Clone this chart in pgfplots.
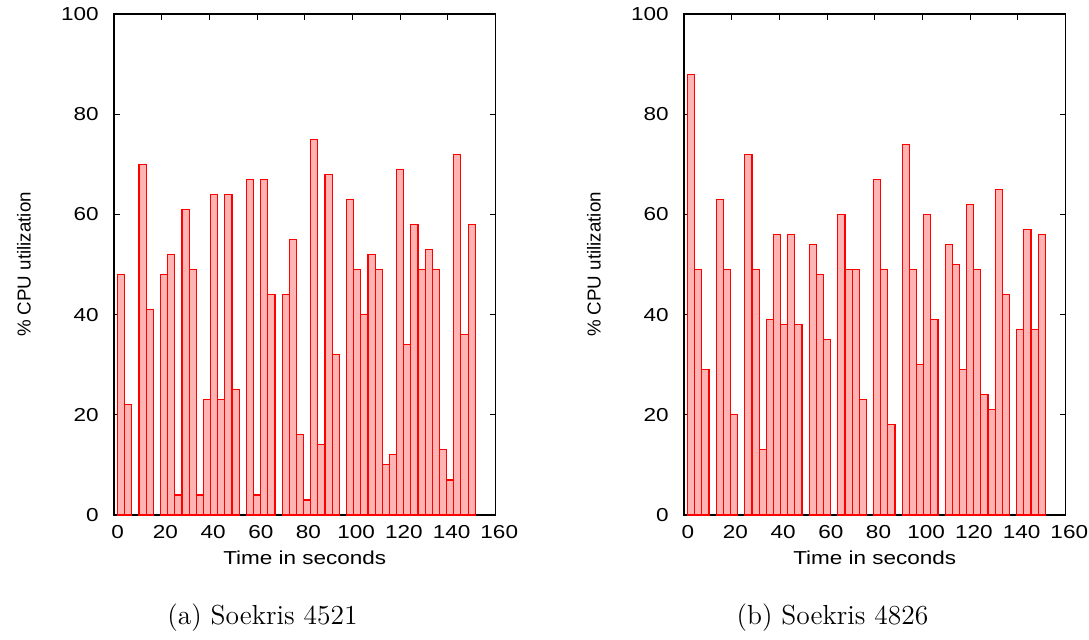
\documentclass[border=0pt]{standalone}
\usepackage{fontspec}
\usepackage{pgfplots}
\usepackage{pgfplotstable}
\pgfplotsset{compat=1.18}

% gnuplot text was stretched sideways with the figure
\newfontfamily\gp[FakeStretch=1.2]{Liberation Sans}
\newfontfamily\gpv{Liberation Sans}
\definecolor{barfill}{RGB}{255,180,180}

% CPU load, sampled every 3 s (zero samples left out)
\pgfplotstableread{
t cpu
3 48
6 22
12 70
15 41
21 48
24 52
27 4
30 61
33 49
36 4
39 23
42 64
45 23
48 64
51 25
57 67
60 4
63 67
66 44
72 44
75 55
78 16
81 3
84 75
87 14
90 68
93 32
99 63
102 49
105 40
108 52
111 49
114 10
117 12
120 69
123 34
126 58
129 49
132 53
135 49
138 13
141 7
144 72
147 36
150 58
}\soekrisA

\pgfplotstableread{
t cpu
3 88
6 49
9 29
15 63
18 49
21 20
27 72
30 49
33 13
36 39
39 56
42 38
45 56
48 38
54 54
57 48
60 35
66 60
69 49
72 49
75 23
81 67
84 49
87 18
93 74
96 49
99 30
102 60
105 39
111 54
114 50
117 29
120 62
123 49
126 24
129 21
132 65
135 44
141 37
144 57
147 37
150 56
}\soekrisB

\pgfplotsset{
  cpuplot/.style={
    width=152.6pt, height=200.4pt, scale only axis,
    xmin=0, xmax=160, ymin=0, ymax=100,
    xtick={0,20,...,160}, ytick={0,20,...,100},
    tick align=inside, major tick length=2.2pt,
    axis line style={black, line width=0.55pt},
    every tick/.style={black, line width=0.4pt},
    /pgf/number format/assume math mode=true,
    ticklabel style={font=\gp\fontsize{7.5}{9}\selectfont, inner sep=0pt},
    xticklabel style={anchor=center, yshift=-6.8pt, xshift=1.5pt},
    yticklabel style={anchor=east, xshift=-5.9pt},
    xlabel={Time in seconds},
    xlabel style={font=\gp\fontsize{7.5}{9}\selectfont, inner sep=0pt,
      at={(axis description cs:0.5,-0.086)}, anchor=center},
    ylabel={\% CPU utilization},
    ylabel style={font=\gpv\fontsize{7.5}{9}\selectfont, inner sep=0pt,
      at={(axis description cs:-0.236,0.5)}, anchor=center},
    clip=false,
  },
  cpubar/.style={ybar, bar width=3, bar shift=0pt,
    fill=barfill, draw=red, line width=0.45pt},
}

\begin{document}
\begin{tikzpicture}
\useasboundingbox (0,0) rectangle (435.6pt,255.6pt);

\begin{axis}[cpuplot, at={(45.6pt,49.6pt)}, anchor=south west]
\addplot[cpubar] table[x=t, y=cpu] {\soekrisA};
\node[font=\fontsize{11}{13}\selectfont, inner sep=0pt]
  at (axis description cs:0.389,-0.2045) {(a) Soekris 4521};
\end{axis}

\begin{axis}[cpuplot, at={(273.6pt,49.6pt)}, anchor=south west]
\addplot[cpubar] table[x=t, y=cpu] {\soekrisB};
\node[font=\fontsize{11}{13}\selectfont, inner sep=0pt]
  at (axis description cs:0.389,-0.2045) {(b) Soekris 4826};
\end{axis}
\end{tikzpicture}
\end{document}
